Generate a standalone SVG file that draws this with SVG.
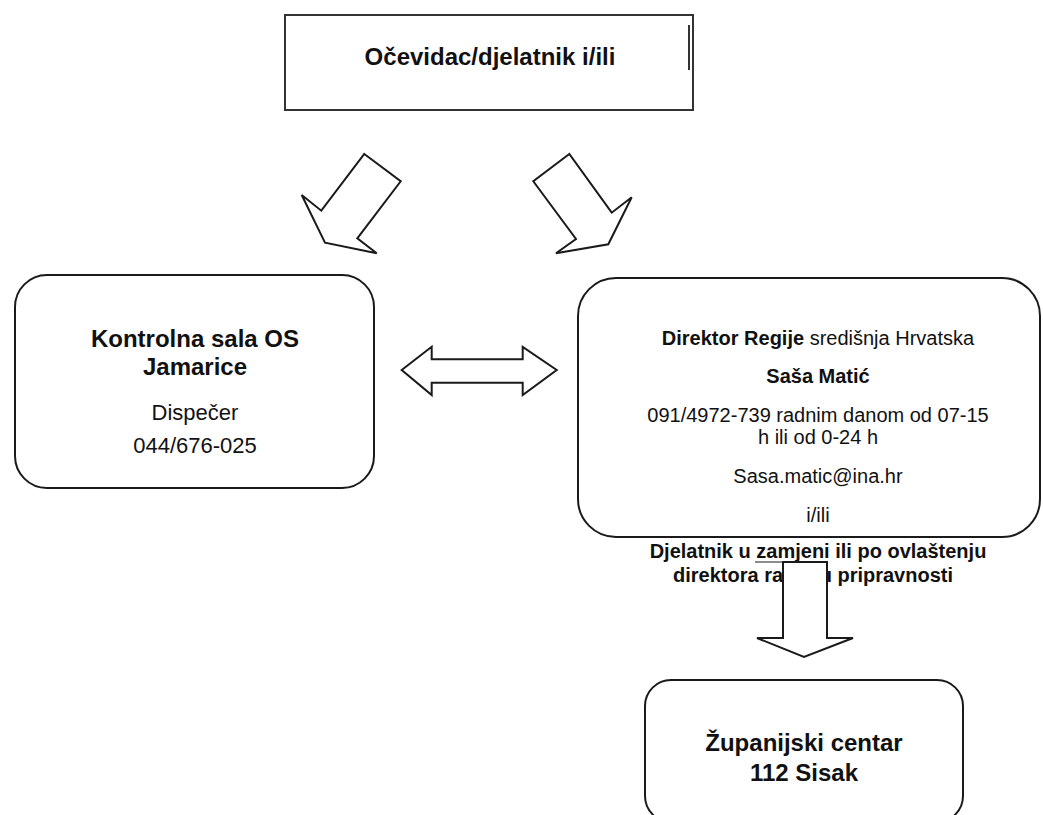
<svg xmlns="http://www.w3.org/2000/svg" width="1043" height="815" viewBox="0 0 1043 815">
<style>
.box{fill:#fff;stroke:#1a1a1a;stroke-width:2}
.arr{fill:#fff;stroke:#1a1a1a;stroke-width:2;stroke-linejoin:miter}
text{font-family:"Liberation Sans",Arial,sans-serif;fill:#111;text-anchor:middle}
.b{font-weight:bold}
.t24{font-size:24px}
.t22{font-size:22px}
.t20{font-size:20px}
</style>
<rect width="1043" height="815" fill="#fff"/>
<g id="node-top">
<rect class="box" x="285" y="15" width="408" height="95" style="stroke:#333"/>
<line x1="689" y1="25" x2="689" y2="70" stroke="#333" stroke-width="2"/>
<text class="b t24" x="490" y="65">Očevidac/djelatnik i/ili</text>
</g>
<g id="node-kontrolna">
<rect class="box" x="15" y="275" width="359" height="213" rx="32"/>
<text class="b t24" x="195" y="347">Kontrolna sala OS</text>
<text class="b t24" x="195" y="375">Jamarice</text>
<text class="t22" x="195" y="420">Dispečer</text>
<text class="t22" x="195" y="453">044/676-025</text>
</g>
<g id="node-direktor">
<rect class="box" x="578" y="278" width="462" height="259" rx="38"/>
<text class="t20" x="818" y="345"><tspan class="b">Direktor Regije</tspan> središnja Hrvatska</text>
<text class="b t20" x="818" y="383">Saša Matić</text>
<text class="t20" x="818" y="422">091/4972-739 radnim danom od 07-15</text>
<text class="t20" x="818" y="444">h ili od 0-24 h</text>
<text class="t20" x="818" y="483">Sasa.matic@ina.hr</text>
<text class="t20" x="818" y="522">i/ili</text>
<text class="b t20" x="818" y="558">Djelatnik u zamjeni ili po ovlaštenju</text>
<text class="b t20" x="673" y="582" style="text-anchor:start">direktora ra</text>
<text class="b t20" x="953" y="582" style="text-anchor:end">u pripravnosti</text>
</g>
<g id="node-zupanijski">
<rect class="box" x="645" y="680" width="318" height="142" rx="26"/>
<text class="b t24" x="804" y="751">Županijski centar</text>
<text class="b t24" x="804" y="781">112 Sisak</text>
</g>
<g id="connectors">
<polygon class="arr" points="364.3,154 400.7,181.3 357.3,238.3 376.7,253.3 325,242.7 301.7,195 321.3,210.7"/>
<polygon class="arr" points="569.3,154 533.3,181.3 576,239 556,253.3 608.3,244.3 631.7,197.3 611.7,212.7"/>
<polygon class="arr" points="401.7,370 431.7,346.7 431.7,359.3 522.7,359.3 522.7,347 556.7,370 522.7,395 522.7,382.7 431.7,382.7 431.7,395"/>
<line x1="755" y1="562" x2="783" y2="562" stroke="#666" stroke-width="1.5"/>
<polygon class="arr" points="783,562 827,562 827,638 853,638 804,657 757,638 783,638"/>
</g>
</svg>
